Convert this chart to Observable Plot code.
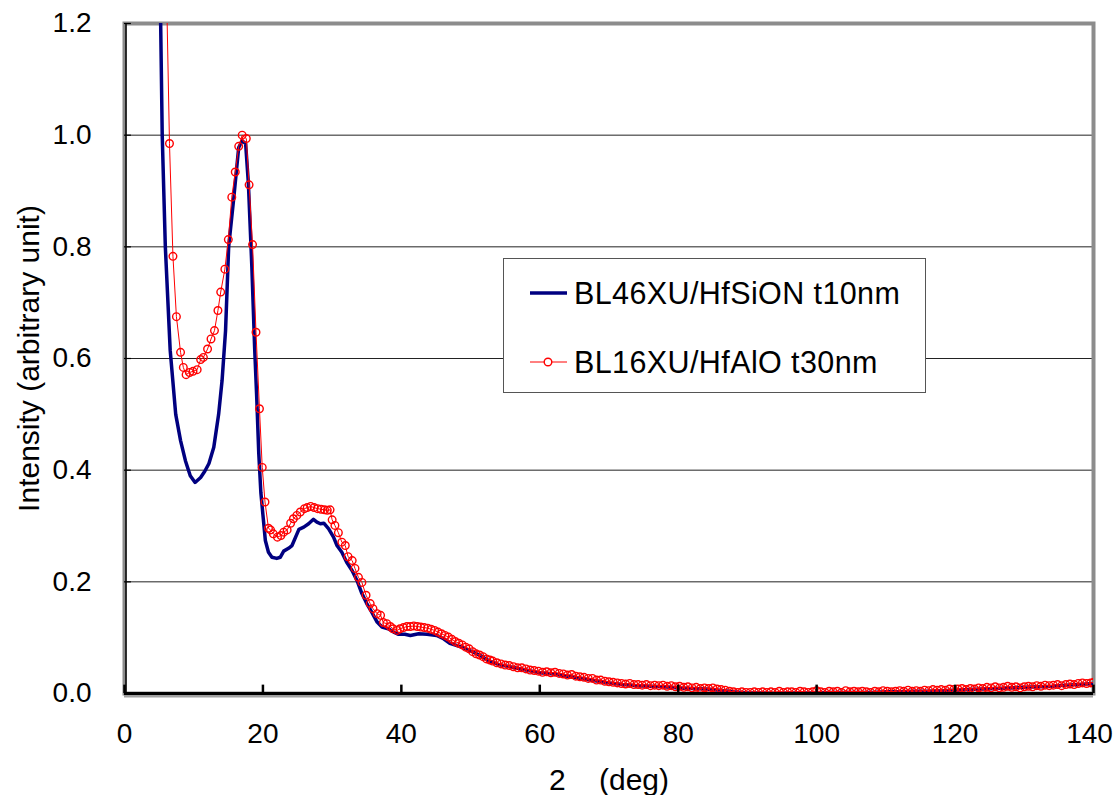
<!DOCTYPE html>
<html>
<head>
<meta charset="utf-8">
<script src="https://cdn.jsdelivr.net/npm/d3@7"></script>
<script src="https://cdn.jsdelivr.net/npm/@observablehq/plot@0.6"></script>
<style>
  html, body { margin: 0; padding: 0; background: #fff; }
  #wrap { position: relative; width: 1113px; height: 795px; font-family: "Liberation Sans", Arial, sans-serif; }
  #legend { position: absolute; left: 503px; top: 258px; width: 421px; height: 133px; background: #fff; border: 1px solid #555; }
</style>
</head>
<body>
<div id="wrap"></div>
<script>
// ---- data ----
const blueName = "BL46XU/HfSiON t10nm";
const redName = "BL16XU/HfAlO t30nm";

const blueX = [5.0,5.45,5.9,6.6,7.4,8.1,8.8,9.5,10.2,11.0,11.6,12.2,12.9,13.6,14.1,14.6,15.05,15.8,16.5,17.0,17.5,17.9,18.4,18.8,19.1,19.4,19.7,20.0,20.35,20.8,21.3,22.0,22.5,23.0,23.7,24.2,25.2,25.9,26.6,27.3,27.8,28.3,28.8,29.5,30.2,30.7,31.4,32.1,32.9,33.6,34.3,35.0,35.7,36.5,37.2,38.1,38.9,39.6,40.5,41.3,42.5,43.7,45.1,46.1,47.0,48.5,49.9,51.4,52.6,54,56,58,60,62,64,66,68,70,72,74,76,78,80,82,84,86,88,90,92,94,96,98,100,102,104,106,108,110,112,114,116,118,120,122,124,126,128,130,132,134,136,138,140];
const blueY = [1.40,1.0,0.80,0.615,0.50,0.453,0.417,0.390,0.378,0.387,0.398,0.412,0.441,0.500,0.561,0.650,0.800,0.889,0.978,0.990,0.985,0.913,0.764,0.620,0.531,0.430,0.360,0.320,0.274,0.253,0.244,0.242,0.244,0.255,0.260,0.265,0.294,0.298,0.304,0.312,0.307,0.304,0.305,0.295,0.280,0.265,0.253,0.235,0.220,0.202,0.179,0.161,0.146,0.128,0.119,0.116,0.110,0.106,0.106,0.104,0.107,0.106,0.104,0.098,0.090,0.084,0.077,0.068,0.059,0.052,0.047,0.042,0.037,0.035,0.031,0.027,0.023,0.019,0.016,0.014,0.013,0.012,0.010,0.009,0.008,0.006,0.003,0.001,0.001,0.000,0.001,0.001,0.001,0.002,0.002,0.002,0.002,0.003,0.003,0.004,0.004,0.005,0.006,0.007,0.008,0.009,0.010,0.011,0.012,0.013,0.015,0.016,0.018];

const redX = [5.9,6.5,7.0,7.5,8.1,8.5,8.9,9.4,9.9,10.5,11.0,11.4,12.0,12.5,13.0,13.5,13.9,14.5,15.0,15.5,16.0,16.5,17.0,17.6,18.0,18.5,19.0,19.5,19.9,20.3,20.8,21.1,21.5,22.1,22.6,23.0,23.5,24.0,24.4,24.9,25.4,26.0,26.4,26.9,27.4,27.9,28.4,28.9,29.3,29.7,30.0,30.4,30.9,31.4,31.9,32.3,32.9,33.3,33.8,34.3,34.9,35.5,35.9,36.5,37.0,37.4,37.9,38.4,38.8,39.4,39.8,40.3,40.8,41.3,41.8,42.3,42.8,43.3,43.8,44.3,44.8,45.3,45.8,46.3,46.8,47.3,47.8,48.3,48.8,49.3,49.8,50.3,50.8,51.3,51.8,52.3,52.8,53.2,53.8,54.4,55.0,55.6,56.2,56.8,57.4,58.0,58.6,59.2,59.8,60.4,61.0,61.6,62.2,62.8,63.4,64.0,64.6,65.2,65.8,66.4,67.0,67.6,68.2,68.8,69.4,70.0,70.6,71.2,71.8,72.4,73.0,73.6,74.2,74.8,75.4,76.0,76.6,77.2,77.8,78.4,79.0,79.6,80.2,80.8,81.4,82.0,82.6,83.2,83.8,84.4,85.0,85.6,86.2,86.8,87.4,88.0,88.6,89.2,89.8,90.4,91.0,91.6,92.2,92.8,93.4,94.0,94.6,95.2,95.8,96.4,97.0,97.6,98.2,98.8,99.4,100.0,100.6,101.2,101.8,102.4,103.0,103.6,104.2,104.8,105.4,106.0,106.6,107.2,107.8,108.4,109.0,109.6,110.2,110.8,111.4,112.0,112.6,113.2,113.8,114.4,115.0,115.6,116.2,116.8,117.4,118.0,118.6,119.2,119.8,120.4,121.0,121.6,122.2,122.8,123.4,124.0,124.6,125.2,125.8,126.4,127.0,127.6,128.2,128.8,129.4,130.0,130.6,131.2,131.8,132.4,133.0,133.6,134.2,134.8,135.4,136.0,136.6,137.2,137.8,138.4,139.0,139.6,140.0];
const redY = [1.37,0.985,0.783,0.675,0.611,0.584,0.571,0.575,0.577,0.580,0.598,0.602,0.617,0.635,0.650,0.686,0.719,0.760,0.813,0.889,0.934,0.980,1.000,0.994,0.911,0.804,0.647,0.510,0.405,0.343,0.296,0.293,0.286,0.280,0.283,0.289,0.293,0.305,0.313,0.319,0.325,0.331,0.333,0.335,0.333,0.331,0.330,0.329,0.328,0.329,0.311,0.301,0.288,0.271,0.265,0.245,0.238,0.224,0.208,0.199,0.176,0.161,0.152,0.143,0.140,0.127,0.125,0.120,0.116,0.113,0.116,0.118,0.120,0.120,0.121,0.120,0.119,0.118,0.117,0.115,0.113,0.110,0.107,0.104,0.101,0.097,0.093,0.090,0.087,0.083,0.080,0.075,0.071,0.069,0.066,0.062,0.060,0.058,0.055,0.053,0.051,0.050,0.048,0.046,0.046,0.044,0.042,0.041,0.040,0.038,0.039,0.037,0.038,0.036,0.035,0.033,0.034,0.031,0.030,0.029,0.027,0.027,0.024,0.024,0.022,0.021,0.020,0.019,0.018,0.017,0.018,0.016,0.016,0.015,0.016,0.014,0.015,0.014,0.015,0.013,0.014,0.012,0.013,0.011,0.012,0.010,0.011,0.009,0.010,0.009,0.010,0.008,0.007,0.006,0.004,0.003,0.002,0.003,0.002,0.002,0.003,0.002,0.003,0.002,0.003,0.002,0.004,0.002,0.003,0.003,0.002,0.004,0.003,0.002,0.003,0.005,0.003,0.002,0.004,0.003,0.004,0.002,0.005,0.003,0.004,0.003,0.004,0.003,0.002,0.004,0.003,0.005,0.004,0.003,0.004,0.005,0.004,0.006,0.004,0.005,0.004,0.006,0.005,0.007,0.006,0.007,0.006,0.008,0.007,0.008,0.009,0.007,0.009,0.008,0.010,0.009,0.011,0.010,0.012,0.010,0.011,0.013,0.011,0.012,0.010,0.012,0.013,0.012,0.014,0.013,0.015,0.014,0.015,0.016,0.014,0.016,0.017,0.016,0.018,0.019,0.018,0.019,0.020];

const xTicks = [0,20,40,60,80,100,120,140];
const yTicks = [0,0.2,0.4,0.6,0.8,1.0,1.2];
const gridVals = [0.2,0.4,0.6,0.8,1.0];
const xTitle = "2\u00A0\u00A0\u00A0\u00A0(deg)";
const yTitle = "Intensity (arbitrary unit)";

// ---- tables ----
const blue = blueX.map((x, i) => ({x, y: blueY[i]}));
const red = redX.map((x, i) => ({x, y: redY[i]}));
const xTicksInner = xTicks.slice(0, -1);
const xTickLast = xTicks.slice(-1);

const chart = Plot.plot({
  width: 1113,
  height: 795,
  marginLeft: 124,
  marginRight: 20,
  marginTop: 23,
  marginBottom: 102,
  style: {fontFamily: "'Liberation Sans', Arial, sans-serif", fontSize: "28px", color: "#000", background: "#fff", overflow: "visible"},
  x: {domain: [0, 140]},
  y: {domain: [0, 1.2]},
  marks: [
    Plot.ruleY(gridVals, {stroke: "#222", strokeWidth: 1}),
    Plot.frame({stroke: "#8c8c8c", strokeWidth: 4}),
    Plot.ruleX([0], {stroke: "#000", strokeWidth: 1.5, dx: 1.5}),
    Plot.ruleY(yTicks, {x1: 0, x2: 1.0, stroke: "#000", strokeWidth: 1.2}),
    Plot.line(blue, {x: "x", y: "y", stroke: "#000080", strokeWidth: 3.5, clip: true, strokeLinejoin: "round"}),
    Plot.line(red, {x: "x", y: "y", stroke: "#ff0000", strokeWidth: 1, clip: true}),
    Plot.dot(red, {x: "x", y: "y", r: 3.8, stroke: "#ff0000", strokeWidth: 1.4, fill: "none", clip: true}),
    Plot.ruleY([0], {stroke: "#a0a0a0", strokeWidth: 3, dy: 2.5}),
    Plot.ruleY([0], {stroke: "#000", strokeWidth: 3}),
    Plot.ruleX(xTicks, {y1: 0, y2: 0.015, stroke: "#000", strokeWidth: 2.5}),
    Plot.axisX(xTicksInner, {tickSize: 0, tickPadding: 30, fontSize: 28, label: null, tickFormat: d => String(d)}),
    Plot.axisX(xTickLast, {tickSize: 0, tickPadding: 30, fontSize: 28, label: null, tickFormat: d => String(d), dx: -4}),
    Plot.axisY(yTicks, {tickSize: 0, tickPadding: 33, fontSize: 28, label: null, tickFormat: d => d.toFixed(1)}),
    Plot.text([yTitle], {frameAnchor: "left", rotate: -90, dx: -95.5, fontSize: 30, textAnchor: "middle", lineAnchor: "middle"}),
    Plot.text([xTitle], {frameAnchor: "bottom", dy: 87, fontSize: 30, textAnchor: "middle", lineAnchor: "middle"})
  ]
});

const wrap = document.getElementById("wrap");
wrap.appendChild(chart);

// ---- legend ----
const legend = document.createElement("div");
legend.id = "legend";
legend.innerHTML = `
<svg width="421" height="133" style="display:block;font-family:'Liberation Sans', Arial, sans-serif">
  <line x1="26" x2="63" y1="34" y2="34" stroke="#000080" stroke-width="3.5"/>
  <text x="70" y="45" font-size="30.5" letter-spacing="0.4" fill="#000">${blueName}</text>
  <line x1="26" x2="63" y1="103" y2="103" stroke="#ff0000" stroke-width="1"/>
  <circle cx="44" cy="103" r="3.8" stroke="#ff0000" stroke-width="1.4" fill="#fff"/>
  <text x="70" y="114" font-size="30.5" letter-spacing="0.4" fill="#000">${redName}</text>
</svg>`;
wrap.appendChild(legend);
</script>
</body>
</html>
